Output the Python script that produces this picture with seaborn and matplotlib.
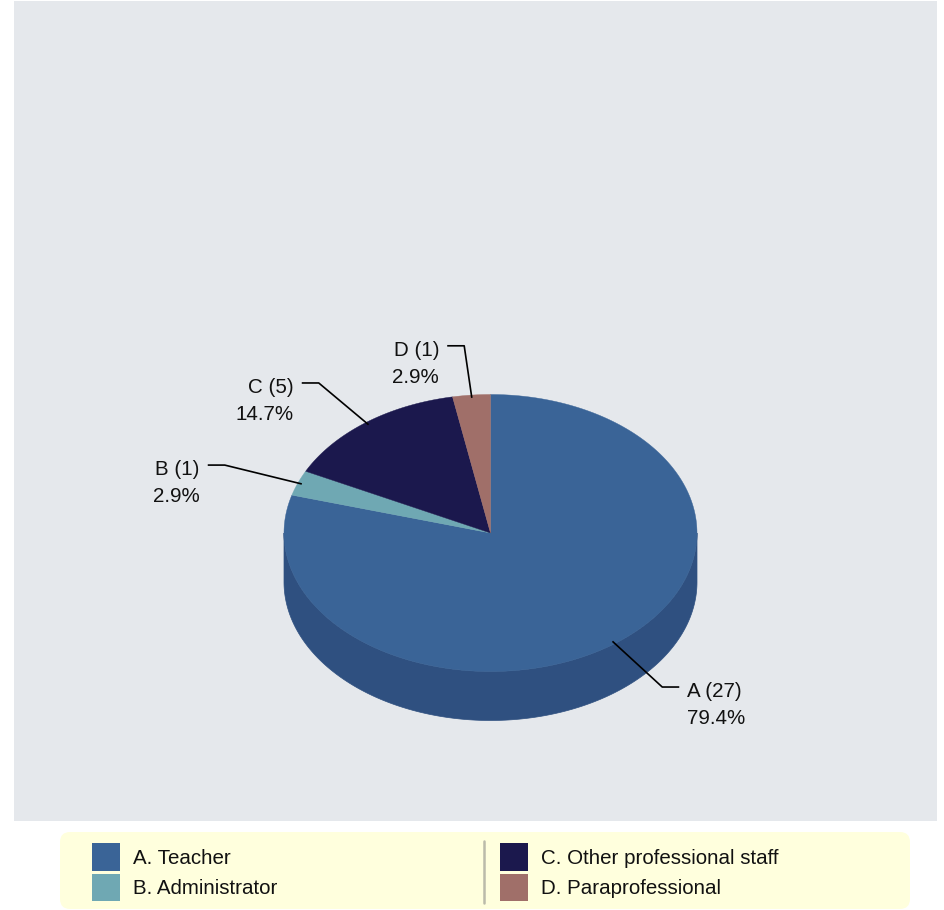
import numpy as np
import matplotlib
matplotlib.use("Agg")
import matplotlib.pyplot as plt
from matplotlib.patches import Polygon, FancyBboxPatch, Rectangle
import seaborn as sns

# ---- data ----
codes = ["A", "B", "C", "D"]
legend_labels = ["A. Teacher", "B. Administrator", "C. Other professional staff", "D. Paraprofessional"]
counts = [27, 1, 5, 1]

# ---- style ----
top_colors = ["#3A6497", "#6FA8B3", "#1B184D", "#A06F69"]
side_colors = ["#2F5080", "#5A8A94", "#15133D", "#805955"]
sns.set_style("white")
palette = sns.color_palette(top_colors)
plt.rcParams["font.family"] = ["Liberation Sans", "DejaVu Sans"]
FS = 14.8

W, H = 944, 910
fig = plt.figure(figsize=(W / 100, H / 100), dpi=100)
fig.patch.set_facecolor("white")

# plot panel in pixel coordinates
PX0, PX1, PY0, PY1 = 14, 937, 1, 821
ax = fig.add_axes([PX0 / W, 1 - PY1 / H, (PX1 - PX0) / W, (PY1 - PY0) / H])
ax.set_xlim(PX0, PX1)
ax.set_ylim(PY1, PY0)
ax.set_facecolor("#E5E8EC")
for s in ax.spines.values():
    s.set_visible(False)
ax.set_xticks([])
ax.set_yticks([])

CX, CY, RX, RY, DEPTH = 490.5, 533.0, 206.5, 138.5, 49.0

def pt(t, rx=RX, ry=RY, dy=0.0):
    return CX + rx * np.sin(t), CY - ry * np.cos(t) + dy

total = float(sum(counts))
fracs = np.array(counts) / total
ends = np.cumsum(fracs) * 2 * np.pi
starts = ends - fracs * 2 * np.pi

# side walls (front half: t in [pi/2, 3pi/2])
for i in range(len(counts)):
    a0 = max(starts[i], np.pi / 2)
    a1 = min(ends[i], 3 * np.pi / 2)
    if a1 <= a0:
        continue
    t = np.linspace(a0, a1, 200)
    xs, ys = pt(t)
    xb, yb = pt(t[::-1], dy=DEPTH)
    poly = np.column_stack([np.concatenate([xs, xb]), np.concatenate([ys, yb])])
    ax.add_patch(Polygon(poly, closed=True, facecolor=side_colors[i], edgecolor=side_colors[i], lw=0.5))

# top wedges
for i in range(len(counts)):
    t = np.linspace(starts[i], ends[i], max(int(fracs[i] * 400), 10))
    xs, ys = pt(t)
    poly = np.column_stack([np.concatenate([[CX], xs]), np.concatenate([[CY], ys])])
    ax.add_patch(Polygon(poly, closed=True, facecolor=palette[i], edgecolor=palette[i], lw=0.3))

# labels with leader lines
LRX, LRY = 285.0, 188.0
for i in range(len(counts)):
    tm = (starts[i] + ends[i]) / 2
    x0, y0 = pt(tm, RX * 0.98, RY * 0.98)
    x1, y1 = pt(tm, LRX, LRY)
    if np.cos(tm) < 0:
        y1 += 4
    side = 1 if np.sin(tm) >= 0 else -1
    x2 = x1 + side * 17
    ax.plot([x0, x1, x2], [y0, y1, y1], color="black", lw=1.2, solid_capstyle="butt")
    ha = "left" if side > 0 else "right"
    tx = x2 + side * 8
    ax.text(tx, y1 + 4.5, f"{codes[i]} ({counts[i]})", ha=ha, va="center", fontsize=FS, color="#111111")
    ax.text(tx, y1 + 31.5, f"{fracs[i] * 100:.1f}%", ha=ha, va="center", fontsize=FS, color="#111111")

# legend panel in pixel coordinates
LX0, LX1, LY0, LY1 = 60, 910, 832, 909
lax = fig.add_axes([LX0 / W, 1 - LY1 / H, (LX1 - LX0) / W, (LY1 - LY0) / H])
lax.set_xlim(LX0, LX1)
lax.set_ylim(LY1, LY0)
lax.axis("off")
lax.add_patch(FancyBboxPatch((LX0, LY0), LX1 - LX0, LY1 - LY0,
                             boxstyle="round,pad=0,rounding_size=10",
                             facecolor="#FFFFDD", edgecolor="none", clip_on=False))
lax.plot([484.5, 484.5], [841, 903], color="#BBBBAA", lw=1.8)
col_x = [92, 500]
row_y = [843, 873.5]
for i, lab in enumerate(legend_labels):
    c, r = divmod(i, 2)
    sx, sy = col_x[c], row_y[r]
    lax.add_patch(Rectangle((sx, sy), 28.5, 27.5, facecolor=palette[i], edgecolor="none"))
    lax.text(sx + 41, sy + 15.5, lab, ha="left", va="center", fontsize=FS, color="#111111")

fig.savefig("out.png", dpi=100)
